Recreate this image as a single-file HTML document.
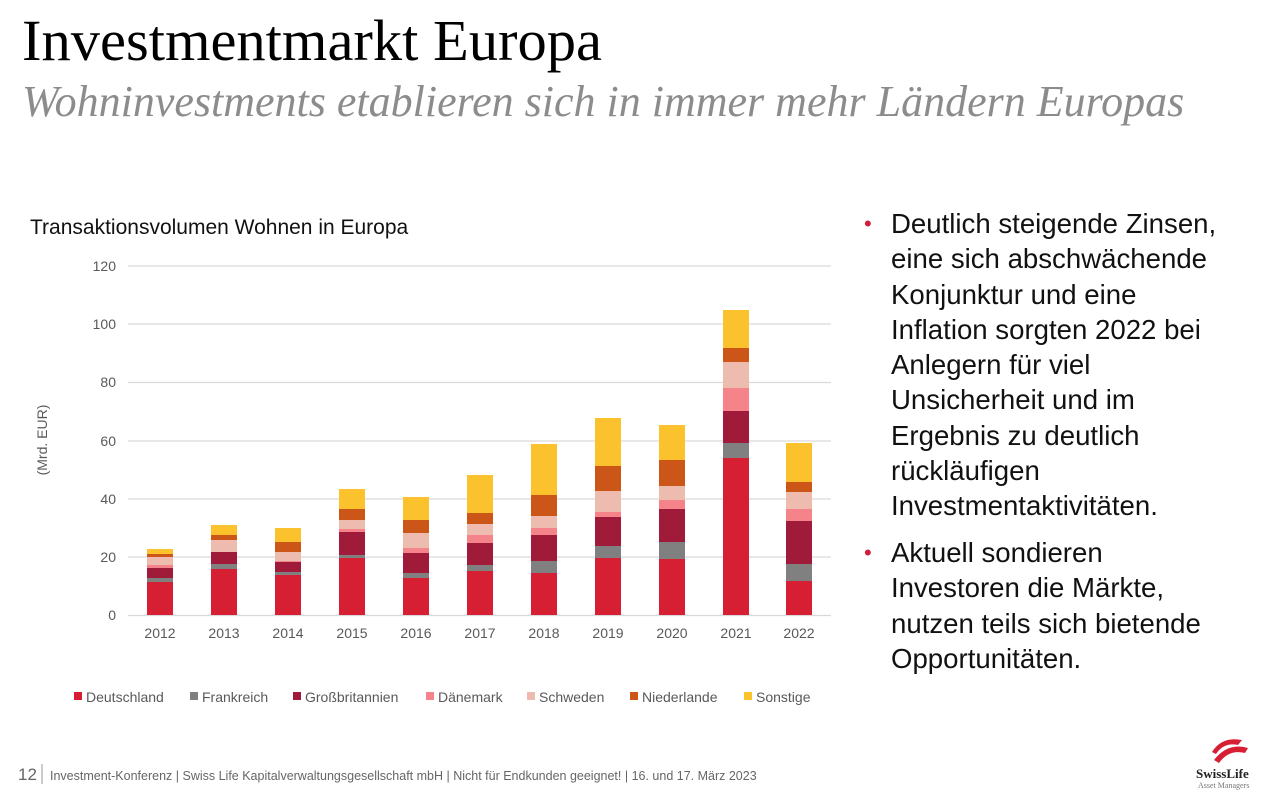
<!DOCTYPE html>
<html><head><meta charset="utf-8"><style>
body{margin:0;width:1280px;height:796px;background:#fff;overflow:hidden;position:relative;font-family:"Liberation Sans",sans-serif}
.t{position:absolute;left:22px;top:7px;font-family:"Liberation Serif",serif;font-size:58.5px;color:#000;white-space:nowrap}
.s{position:absolute;left:22px;top:76px;font-family:"Liberation Serif",serif;font-style:italic;font-size:44px;color:#8c8c8c;white-space:nowrap}
.b{position:absolute;left:864px;font-size:27.6px;line-height:35.3px;color:#111}
.b span{position:absolute;left:0;color:#d01f3c;font-size:22px}
.b div{margin-left:27px}
</style></head><body>
<div class="t">Investmentmarkt Europa</div>
<div class="s">Wohninvestments etablieren sich in immer mehr Ländern Europas</div>
<div class="b" style="top:206px"><span>•</span><div>Deutlich steigende Zinsen,<br>eine sich abschwächende<br>Konjunktur und eine<br>Inflation sorgten 2022 bei<br>Anlegern für viel<br>Unsicherheit und im<br>Ergebnis zu deutlich<br>rückläufigen<br>Investmentaktivitäten.</div></div>
<div class="b" style="top:535px"><span>•</span><div>Aktuell sondieren<br>Investoren die Märkte,<br>nutzen teils sich bietende<br>Opportunitäten.</div></div>
<svg width="1280" height="796" style="position:absolute;left:0;top:0" font-family="Liberation Sans,sans-serif">
<text x="30" y="234" font-size="21" fill="#111">Transaktionsvolumen Wohnen in Europa</text>
<g stroke="#d9d9d9" stroke-width="1.3">
<line x1="128" x2="831" y1="266" y2="266"/><line x1="128" x2="831" y1="324" y2="324"/><line x1="128" x2="831" y1="382.5" y2="382.5"/><line x1="128" x2="831" y1="441" y2="441"/><line x1="128" x2="831" y1="499" y2="499"/><line x1="128" x2="831" y1="557" y2="557"/><line x1="128" x2="831" y1="615.5" y2="615.5"/></g>
<g font-size="14" fill="#595959" text-anchor="end">
<text x="116" y="271">120</text><text x="116" y="329">100</text><text x="116" y="387">80</text><text x="116" y="446">60</text><text x="116" y="504">40</text><text x="116" y="562">20</text><text x="116" y="620">0</text></g>
<text transform="translate(47,440) rotate(-90)" font-size="14" fill="#595959" text-anchor="middle">(Mrd. EUR)</text>
<g id="bars"></g>
<g font-size="14" fill="#595959" text-anchor="middle">
<text x="160" y="638">2012</text><text x="224" y="638">2013</text><text x="288" y="638">2014</text><text x="352" y="638">2015</text><text x="416" y="638">2016</text><text x="480" y="638">2017</text><text x="544" y="638">2018</text><text x="608" y="638">2019</text><text x="672" y="638">2020</text><text x="736" y="638">2021</text><text x="799" y="638">2022</text></g>
<g font-size="14" fill="#595959">
<rect x="74" y="692" width="8" height="8" fill="#d71f34"/><text x="86" y="702">Deutschland</text>
<rect x="190" y="692" width="8" height="8" fill="#808080"/><text x="202" y="702">Frankreich</text>
<rect x="293" y="692" width="8" height="8" fill="#a01a3a"/><text x="305" y="702">Großbritannien</text>
<rect x="426" y="692" width="8" height="8" fill="#f4838a"/><text x="438" y="702">Dänemark</text>
<rect x="527" y="692" width="8" height="8" fill="#eebcae"/><text x="539" y="702">Schweden</text>
<rect x="630" y="692" width="8" height="8" fill="#cc5518"/><text x="642" y="702">Niederlande</text>
<rect x="744" y="692" width="8" height="8" fill="#fbc22d"/><text x="756" y="702">Sonstige</text></g>
<text x="18" y="780" font-size="17" fill="#666">12</text>
<line x1="42" y1="764" x2="42" y2="784" stroke="#999"/>
<text x="50" y="780" font-size="12.5" fill="#666">Investment-Konferenz | Swiss Life Kapitalverwaltungsgesellschaft mbH | Nicht für Endkunden geeignet! | 16. und 17. März 2023</text>
<path d="M1212 752 q10 -16 30 -12 l-4 5 q-14 -3 -22 9z M1214 760 q14 -18 34 -12 l-3 5 q-16 -4 -26 10z" fill="#d71f34"/>
<text x="1196" y="778" font-family="Liberation Serif,serif" font-size="13" font-weight="bold" fill="#222">SwissLife</text>
<text x="1198" y="788" font-family="Liberation Serif,serif" font-size="8" fill="#777">Asset Managers</text>
</svg>
<script>
var d=[[160,549,554,557,565,568,578,582],[224,525,535,540,552,552,564,569],[288,528,542,552,561,562,572,575],[352,489,509,520,529,532,555,558],[416,497,520,533,548,553,573,578],[480,475,513,524,535,543,565,571],[544,444,495,516,528,535,561,573],[608,418,466,491,512,517,546,558],[672,425,460,486,500,509,542,559],[736,310,348,362,388,411,443,458],[799,443,482,492,509,521,564,581]];
var c=["#fbc22d","#cc5518","#eebcae","#f4838a","#a01a3a","#808080","#d71f34"];
var s="";d.forEach(function(b){var x=b[0]-13;var ys=b.slice(1).concat([615]);for(var i=0;i<7;i++){var h=ys[i+1]-ys[i];if(h>0)s+='<rect x="'+x+'" y="'+ys[i]+'" width="26" height="'+h+'" fill="'+c[i]+'"/>';}});
document.getElementById("bars").innerHTML=s;
</script>
</body></html>
